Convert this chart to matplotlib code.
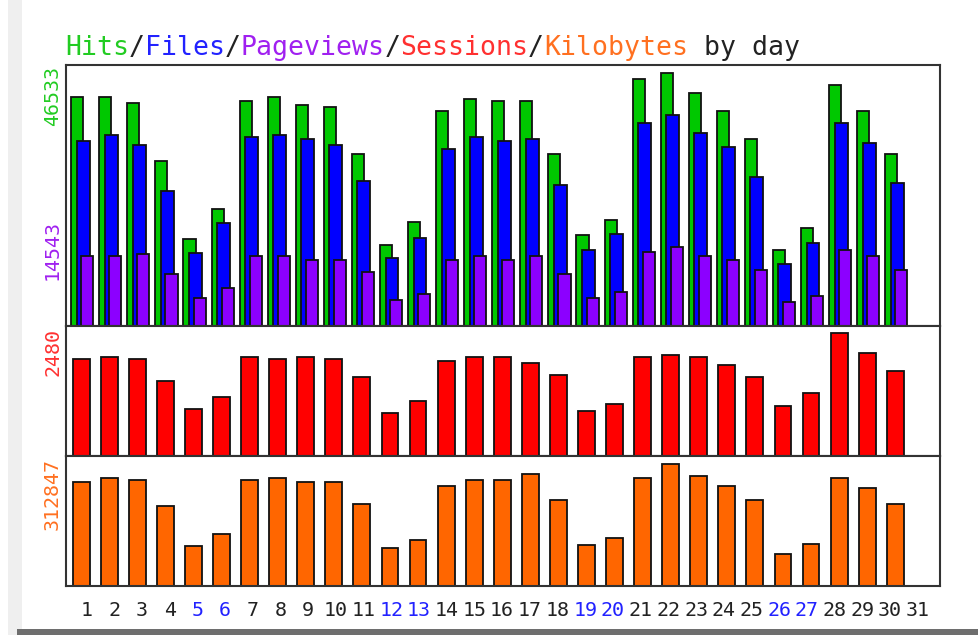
import numpy as np
import matplotlib
matplotlib.use("Agg")
import matplotlib.pyplot as plt
from matplotlib.transforms import blended_transform_factory
from matplotlib.patches import Rectangle

# Daily usage values (days 1-30, day 31 empty)
days = np.arange(1, 31)
hits = [42108, 42108, 41057, 30364, 15929, 21460, 41426, 42108, 40688, 40264,
        31710, 14823, 19173, 39527, 41739, 41370, 41370, 31710, 16666, 19542,
        45426, 46533, 42845, 39527, 34365, 13956, 18067, 44320, 39527, 31710]
files = [34107, 35158, 33314, 24778, 13348, 18878, 34789, 35158, 34420, 33314,
         26621, 12536, 16224, 32521, 34733, 34051, 34365, 25884, 14011, 16998,
         37314, 38789, 35471, 32890, 27414, 11430, 15191, 37314, 33627, 26253]
pageviews = [12905, 12905, 13274, 9587, 5162, 7006, 12905, 12905, 12168, 12168,
             9955, 4793, 5900, 12168, 12905, 12168, 12905, 9587, 5162, 6268,
             13643, 14543, 12905, 12168, 10324, 4369, 5475, 14011, 12905, 10324]
sessions = [1961, 1994, 1953, 1507, 939, 1182, 1994, 1953, 1994, 1953,
            1588, 858, 1101, 1912, 1994, 1994, 1872, 1622, 898, 1055,
            1994, 2042, 1994, 1831, 1588, 1014, 1263, 2480, 2075, 1710]
kbytes = [266032, 276264, 271148, 204640, 102320, 133016, 271148, 276264, 266032, 266032,
          210523, 97204, 118435, 256567, 271148, 271148, 286496, 219988, 106413, 122784,
          276264, 312847, 281380, 255800, 219988, 81856, 107436, 276264, 250684, 209756]
day_labels = [str(d) for d in range(1, 32)]
weekend_days = [5, 6, 12, 13, 19, 20, 26, 27]

c_hits, c_files, c_pages = "#00c800", "#0000ff", "#8c00ff"
c_sess, c_kb = "#ff0000", "#ff6600"
mono = "DejaVu Sans Mono"

W, H = 979, 635
fig = plt.figure(figsize=(W / 100, H / 100), dpi=100)
fig.patch.set_facecolor("white")

# screenshot-like borders
fig.patches.append(Rectangle((8 / W, 0), 14 / W, 1, transform=fig.transFigure,
                             facecolor="#efefef", edgecolor="none", zorder=0))
fig.patches.append(Rectangle((17 / W, 0), 1, 6.5 / H, transform=fig.transFigure,
                             facecolor="#6e6e6e", edgecolor="none", zorder=0))

left, right = 65.7, 940
x0 = 1 - (81.2 - left) / 28.07
x1 = 1 + (right - 81.2) / 28.07


def make_ax(top_px, bot_px):
    ax = fig.add_axes([left / W, 1 - bot_px / H, (right - left) / W, (bot_px - top_px) / H])
    ax.set_xlim(x0, x1)
    ax.set_xticks([])
    ax.set_yticks([])
    for s in ax.spines.values():
        s.set_linewidth(1.5)
        s.set_color("#333333")
    return ax


ax1 = make_ax(65, 325.7)
ax2 = make_ax(325.7, 456)
ax3 = make_ax(456, 586.3)

ax1.set_ylim(0, max(hits) * 260.7 / 252.4)
ax2.set_ylim(0, max(sessions) * 129.3 / 122.3)
ax3.set_ylim(0, max(kbytes) * 130.3 / 122.3)

ek = dict(edgecolor="#111111", linewidth=1.3)
ax1.bar(days - 0.142, hits, width=0.43, color=c_hits, **ek)
ax1.bar(days + 0.071, files, width=0.46, color=c_files, **ek)
ax1.bar(days + 0.217, pageviews, width=0.43, color=c_pages, **ek)
ax2.bar(days, sessions, width=0.6, color=c_sess, **ek)
ax3.bar(days, kbytes, width=0.6, color=c_kb, **ek)

# axis max labels
fig.text(62 / W, 1 - 66 / H, str(max(hits)), rotation=90, ha="right", va="top",
         color="#22cc22", fontsize=14.4, family=mono)
tr = blended_transform_factory(fig.transFigure, ax1.transData)
ax1.text(62 / W, max(pageviews) * 0.965, str(max(pageviews)), transform=tr, rotation=90,
         ha="right", va="center", color="#a020f0", fontsize=14.4, family=mono)
fig.text(62 / W, 1 - 328 / H, str(max(sessions)), rotation=90, ha="right", va="top",
         color="#ff3030", fontsize=14.4, family=mono)
fig.text(62 / W, 1 - 458 / H, str(max(kbytes)), rotation=90, ha="right", va="top",
         color="#ff7020", fontsize=14.4, family=mono)

# day labels under the bottom panel
trx = blended_transform_factory(ax3.transData, fig.transFigure)
for i, lab in enumerate(day_labels):
    d = i + 1
    xp = 15.5 + (d - 15.5) * 0.987
    col = "#2222ff" if d in weekend_days else "#222222"
    ax3.text(xp, 1 - 615.7 / H, lab, transform=trx, ha="center", va="baseline",
             color=col, fontsize=14.4, family=mono, clip_on=False)

# multi-coloured title
parts = [("Hits", "#22cc22"), ("/", "#222222"), ("Files", "#2222ff"), ("/", "#222222"),
         ("Pageviews", "#a020f0"), ("/", "#222222"), ("Sessions", "#ff3030"),
         ("/", "#222222"), ("Kilobytes", "#ff7020"), (" by day", "#222222")]
fs_title = 19.1
adv = 0.602 * fs_title * 100 / 72
xpos = 65
for txt, col in parts:
    fig.text(xpos / W, 1 - 55 / H, txt, ha="left", va="baseline", color=col,
             fontsize=fs_title, family=mono)
    xpos += adv * len(txt)

fig.savefig("out.png", dpi=100)
